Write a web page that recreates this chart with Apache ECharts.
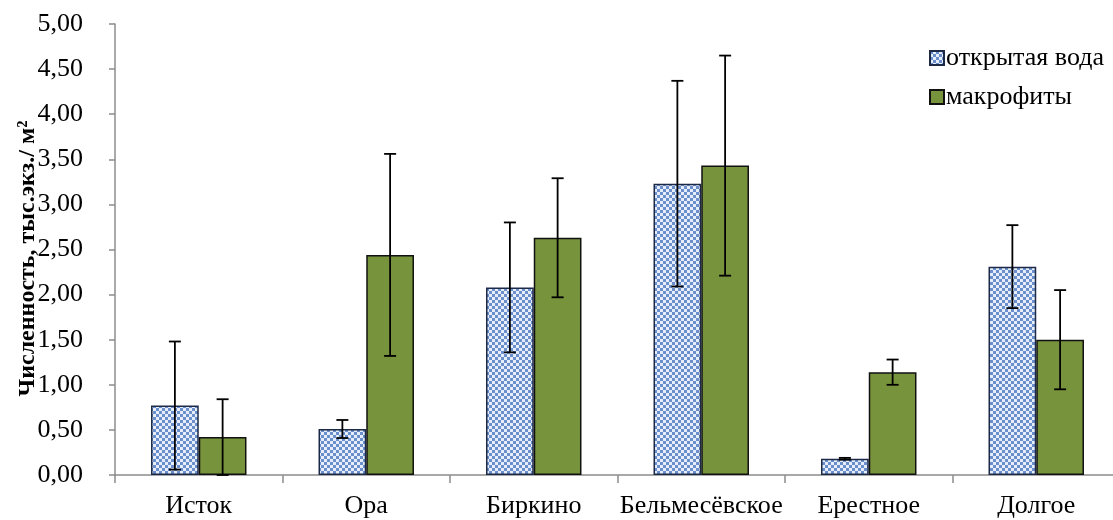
<!DOCTYPE html>
<html>
<head>
<meta charset="utf-8">
<script src="https://cdn.jsdelivr.net/npm/echarts@6/dist/echarts.min.js"></script>
<style>
html,body{margin:0;padding:0;background:#fff;}
#chart{width:1113px;height:520px;}
</style>
</head>
<body>
<div id="chart"></div>
<script>
const categories = ['Исток', 'Ора', 'Биркино', 'Бельмесёвское', 'Ерестное', 'Долгое'];
const seriesNames = ['открытая вода', 'макрофиты'];
const openWater = [0.77, 0.51, 2.08, 3.23, 0.18, 2.31];
const openWaterErr = [0.71, 0.10, 0.72, 1.14, 0.01, 0.46];
const macrophytes = [0.42, 2.44, 2.63, 3.43, 1.14, 1.50];
const macrophytesErr = [0.42, 1.12, 0.66, 1.22, 0.14, 0.55];
const yTicks = { min: 0, max: 5, interval: 0.5 };
const yAxisName = 'Численность, тыс.экз./ м²';

const FONT = '"Liberation Serif", "Times New Roman", serif';
const GAP = 0.43;

function makePattern() {
  const c = document.createElement('canvas');
  c.width = 6; c.height = 6;
  const ctx = c.getContext('2d');
  ctx.fillStyle = '#e6eef9';
  ctx.fillRect(0, 0, 6, 6);
  ctx.fillStyle = '#6a8fcc';
  ctx.fillRect(0, 0, 3, 3);
  ctx.fillRect(3, 3, 3, 3);
  return c;
}
const pattern = { image: makePattern(), repeat: 'repeat' };

function errData(vals, errs) {
  return vals.map((v, i) => [i, v - errs[i], v + errs[i]]);
}

function errSeries(vals, errs, side) {
  return {
    type: 'custom',
    name: 'err' + side,
    data: errData(vals, errs),
    z: 10,
    renderItem: function (params, api) {
      const idx = api.value(0);
      const band = api.size([1, 0])[0];
      const bw = band * (1 - GAP) / 2;
      const c = api.coord([idx, 0]);
      const x = c[0] + side * bw / 2;
      const lo = api.coord([idx, Math.max(api.value(1), 0)])[1];
      const hi = api.coord([idx, api.value(2)])[1];
      const cap = 6;
      const st = { stroke: '#000', lineWidth: 1.8 };
      return {
        type: 'group',
        children: [
          { type: 'line', shape: { x1: x, y1: lo, x2: x, y2: hi }, style: st },
          { type: 'line', shape: { x1: x - cap, y1: hi, x2: x + cap, y2: hi }, style: st },
          { type: 'line', shape: { x1: x - cap, y1: lo, x2: x + cap, y2: lo }, style: st }
        ]
      };
    }
  };
}

const chart = echarts.init(document.getElementById('chart'), null, { renderer: 'canvas' });
chart.setOption({
  animation: false,
  backgroundColor: '#fff',
  grid: { left: 115, right: -7, top: 24, bottom: 45, outerBoundsMode: 'none', containLabel: false },
  legend: {
    data: seriesNames,
    orient: 'vertical',
    left: 924,
    top: 40,
    itemWidth: 14,
    itemHeight: 14,
    itemGap: 13,
    icon: 'rect',
    textStyle: { fontFamily: FONT, fontSize: 26, color: '#000', padding: [0, 0, 0, -3] }
  },
  xAxis: {
    type: 'category',
    data: categories,
    axisLine: { lineStyle: { color: '#8c8c8c', width: 1.5 } },
    axisTick: { show: true, interval: 0, length: 8, lineStyle: { color: '#8c8c8c', width: 1.5 } },
    axisLabel: { interval: 0, fontFamily: FONT, fontSize: 26, color: '#000', margin: 18 }
  },
  yAxis: {
    type: 'value',
    min: yTicks.min,
    max: yTicks.max,
    interval: yTicks.interval,
    name: yAxisName,
    nameLocation: 'middle',
    nameGap: 75,
    nameMoveOverlap: false,
    nameTextStyle: { fontFamily: FONT, fontSize: 24, fontWeight: 'bold', color: '#000', padding: [0, 18, 0, 0] },
    axisLine: { show: true, lineStyle: { color: '#8c8c8c', width: 1.5 } },
    axisTick: { show: true, length: 6, lineStyle: { color: '#8c8c8c', width: 1.5 } },
    splitLine: { show: false },
    axisLabel: {
      fontFamily: FONT, fontSize: 26, color: '#000', margin: 32,
      formatter: v => v.toFixed(2).replace('.', ',')
    }
  },
  series: [
    {
      name: seriesNames[0],
      type: 'bar',
      data: openWater,
      barGap: '0%',
      barCategoryGap: (GAP * 100) + '%',
      itemStyle: { color: pattern, borderColor: '#1c2a48', borderWidth: 1.5 }
    },
    {
      name: seriesNames[1],
      type: 'bar',
      data: macrophytes,
      itemStyle: { color: '#77933c', borderColor: '#111', borderWidth: 1.5 }
    },
    errSeries(openWater, openWaterErr, -1),
    errSeries(macrophytes, macrophytesErr, 1)
  ]
});
</script>
</body>
</html>
